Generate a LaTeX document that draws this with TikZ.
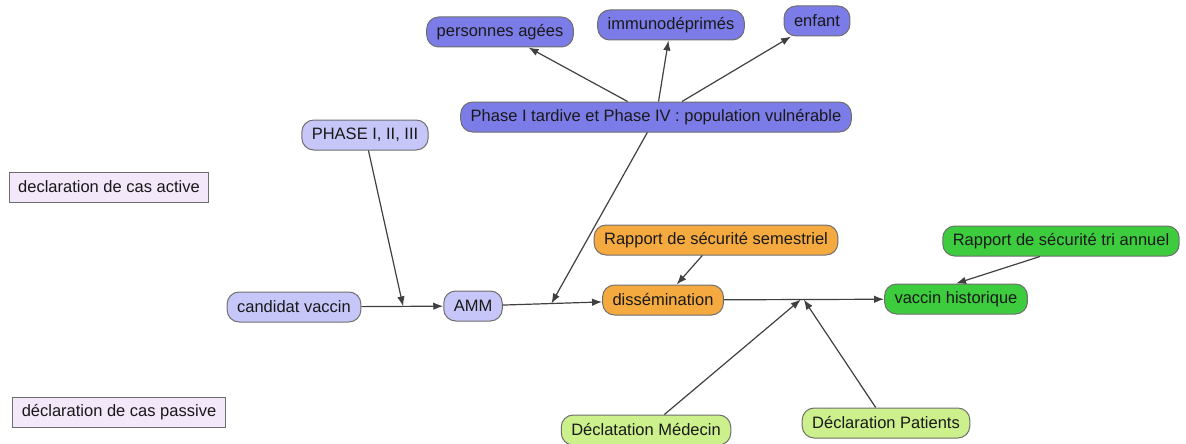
\documentclass[tikz,border=0pt]{standalone}
\usepackage{fontspec}
\setmainfont{Liberation Sans}
\usetikzlibrary{arrows.meta}
\definecolor{lightblue}{RGB}{198,199,248}
\definecolor{darkblue}{RGB}{124,124,232}
\definecolor{orangebox}{RGB}{245,170,64}
\definecolor{greenbox}{RGB}{61,204,61}
\definecolor{lightgreen}{RGB}{204,240,140}
\definecolor{lavender}{RGB}{243,231,250}
\definecolor{edgegray}{RGB}{110,110,110}
\definecolor{arrowgray}{RGB}{64,64,64}
\begin{document}
\begin{tikzpicture}[x=1pt,y=-1pt,
	concept/.style={draw=edgegray,line width=1pt,rounded corners=12pt,minimum height=30pt,inner xsep=10pt,text=black!90,font=\fontsize{16.5}{19}\selectfont},
	legend/.style={draw=edgegray,line width=1pt,fill=lavender,minimum height=30pt,inner xsep=9pt,text=black!90,font=\fontsize{16.5}{19}\selectfont},
	link/.style={draw=arrowgray,line width=1.2pt,-{Latex[length=10pt,width=7.5pt]}}]
	\useasboundingbox (0,0) rectangle (1186,444);
	\node[legend] (active) at (109,187) {declaration de cas active};
	\node[legend] (passive) at (119,412) {déclaration de cas passive};
	\node[concept,fill=darkblue] (pers) at (500,32) {personnes agées};
	\node[concept,fill=darkblue] (immuno) at (671,25) {immunodéprimés};
	\node[concept,fill=darkblue] (enfant) at (817,21) {enfant};
	\node[concept,fill=darkblue] (phase) at (656,117) {Phase I tardive et Phase IV : population vulnérable};
	\node[concept,fill=lightblue] (phases) at (365,135) {PHASE I, II, III};
	\node[concept,fill=lightblue] (cand) at (294,307) {candidat vaccin};
	\node[concept,fill=lightblue] (amm) at (473,306) {AMM};
	\node[concept,fill=orangebox] (diss) at (663,300) {dissémination};
	\node[concept,fill=orangebox] (sem) at (716,240) {Rapport de sécurité semestriel};
	\node[concept,fill=greenbox] (hist) at (956,299) {vaccin historique};
	\node[concept,fill=greenbox] (tri) at (1061,241) {Rapport de sécurité tri annuel};
	\node[concept,fill=lightgreen] (med) at (646,430) {Déclatation Médecin};
	\node[concept,fill=lightgreen] (pat) at (886,423) {Déclaration Patients};
	\draw[link] (phase) -- (pers);
	\draw[link] (phase) -- (immuno);
	\draw[link] (phase) -- (enfant);
	\draw[link] (cand) -- coordinate[pos=0.51] (m1) (amm);
	\draw[link] (amm) -- coordinate[pos=0.49] (m2) (diss);
	\draw[link] (diss) -- coordinate[pos=0.48] (m3) (hist);
	\draw[link] (phases) -- (m1);
	\draw[link] (phase) -- (m2);
	\draw[link] (sem) -- (diss);
	\draw[link] ([xshift=-21pt]tri.south) -- (hist.north);
	\draw[link] (med) -- (m3);
	\draw[link] (pat) -- ([xshift=3pt]m3);
\end{tikzpicture}
\end{document}
